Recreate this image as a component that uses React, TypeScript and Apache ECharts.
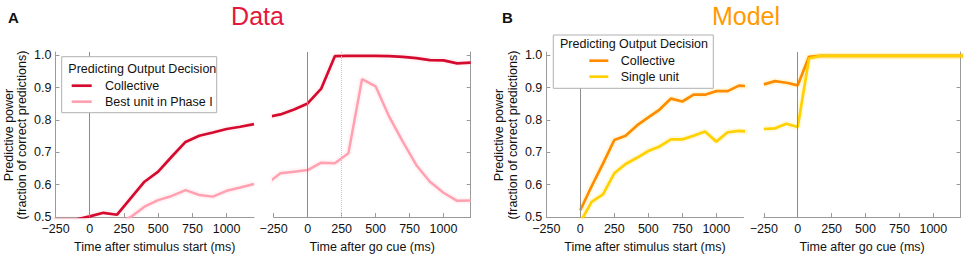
import React, { useEffect, useRef } from 'react';
import * as echarts from 'echarts';

// ---- Data ----
const T_DATA = [-300, -200, -100, 0, 100, 200, 300, 400, 500, 600, 700, 800, 900, 1000, 1100, 1200];
const A_STIM_COLLECTIVE = [0.492, 0.492, 0.492, 0.502, 0.513, 0.507, 0.558, 0.609, 0.640, 0.687, 0.732, 0.751, 0.761, 0.772, 0.779, 0.787];
const A_STIM_BEST = [0.46, 0.46, 0.465, 0.47, 0.475, 0.48, 0.500, 0.532, 0.552, 0.565, 0.583, 0.568, 0.563, 0.581, 0.591, 0.602];
const A_GO_COLLECTIVE = [0.809, 0.817, 0.832, 0.851, 0.897, 0.997, 0.998, 0.998, 0.998, 0.997, 0.995, 0.991, 0.985, 0.984, 0.975, 0.977];
const A_GO_BEST = [0.603, 0.635, 0.640, 0.645, 0.668, 0.666, 0.697, 0.926, 0.904, 0.810, 0.733, 0.660, 0.609, 0.575, 0.550, 0.551];

const T_MODEL_STIM = [0, 83.3, 166.7, 250, 333.3, 416.7, 500, 583.3, 666.7, 750, 833.3, 916.7, 1000, 1083.3, 1166.7, 1250];
const B_STIM_COLLECTIVE = [0.521, 0.595, 0.665, 0.738, 0.751, 0.783, 0.808, 0.832, 0.866, 0.857, 0.878, 0.878, 0.889, 0.889, 0.906, 0.904];
const B_STIM_SINGLE = [0.484, 0.547, 0.570, 0.635, 0.664, 0.683, 0.704, 0.718, 0.740, 0.740, 0.751, 0.764, 0.733, 0.762, 0.766, 0.764];

const T_MODEL_GO = [-250, -166.7, -83.3, 0, 83.3, 166.7, 250, 333.3, 416.7, 500, 583.3, 666.7, 750, 833.3, 916.7, 1000, 1083.3, 1166.7, 1250];
const B_GO_COLLECTIVE = [0.910, 0.920, 0.915, 0.907, 0.995, 0.998, 0.998, 0.998, 0.998, 0.998, 0.998, 0.998, 0.998, 0.998, 0.998, 0.998, 0.998, 0.998, 0.998];
const B_GO_SINGLE = [0.772, 0.774, 0.788, 0.778, 0.990, 0.998, 0.998, 0.998, 0.998, 0.998, 0.998, 0.998, 0.998, 0.998, 0.998, 0.998, 0.998, 0.998, 0.998];

const X_TICKS = [-250, 0, 250, 500, 750, 1000];
const Y_TICKS = [0.5, 0.6, 0.7, 0.8, 0.9, 1.0];
const X_MIN = -250;
const X_MAX = 1200;
const Y_MIN = 0.5;
const Y_MAX = 1.01;

const LEGEND_TITLE = 'Predicting Output Decision';
const A_NAMES = ['Collective', 'Best unit in Phase I'];
const B_NAMES = ['Collective', 'Single unit'];
const X_NAMES = ['Time after stimulus start (ms)', 'Time after go cue (ms)'];
const Y_NAME = 'Predictive power\n(fraction of correct predictions)';

// ---- Styles ----
const FONT = '"Liberation Sans", Arial, Helvetica, sans-serif';
const FS = 12.5;
const RED = '#d40a2e';
const PINK = '#ffa1b1';
const ORANGE = '#ff8c00';
const YELLOW = '#ffd100';
const AXIS = '#9a9a9a';
const TXT = '#111';

const GRIDS = [
  { left: 55.5, width: 198.5 },
  { left: 273.7, width: 197 },
  { left: 546.3, width: 197.2 },
  { left: 763.8, width: 196.7 },
];

const pairs = (t: number[], v: number[]) => t.map((x, i) => [x, v[i]]);
const fmtX = (v: number) => (v < 0 ? '\u2212' + Math.abs(v) : String(v));

export default function App() {
  const ref = useRef<HTMLDivElement>(null);
  useEffect(() => {
    if (!ref.current) return;
    const chart = echarts.init(ref.current, undefined, { renderer: 'svg' });

    const grid = GRIDS.map((g) => ({ left: g.left, width: g.width, top: 52, height: 165, outerBoundsMode: 'none' }));

    const xAxis = GRIDS.map((_, i) => ({
      type: 'value',
      gridIndex: i,
      min: X_MIN,
      max: X_MAX,
      name: X_NAMES[i % 2],
      nameLocation: 'middle',
      nameGap: 21,
      nameTextStyle: { fontFamily: FONT, fontSize: FS, color: TXT },
      axisLine: { show: true, onZero: false, lineStyle: { color: AXIS, width: 1 } },
      axisTick: { show: true, inside: true, length: 4, customValues: X_TICKS, lineStyle: { color: AXIS } },
      axisLabel: {
        customValues: X_TICKS,
        formatter: fmtX,
        margin: 6,
        lineHeight: 12,
        fontFamily: FONT,
        fontSize: FS,
        color: TXT,
      },
      splitLine: { show: false },
    }));

    const yAxis = GRIDS.map((_, i) => ({
      type: 'value',
      gridIndex: i,
      min: Y_MIN,
      max: Y_MAX,
      position: i % 2 === 0 ? 'left' : 'right',
      axisLine: { show: true, onZero: false, lineStyle: { color: AXIS, width: 1 } },
      axisTick: { show: true, inside: true, length: 4, customValues: Y_TICKS, lineStyle: { color: AXIS } },
      axisLabel: {
        show: i % 2 === 0,
        customValues: Y_TICKS,
        formatter: (v: number) => v.toFixed(1),
        margin: 4,
        lineHeight: 11,
        fontFamily: FONT,
        fontSize: FS,
        color: TXT,
      },
      splitLine: { show: false },
    }));

    const vline = (idx: number, x: number, color: string, type: string) => ({
      type: 'line',
      xAxisIndex: idx,
      yAxisIndex: idx,
      data: [],
      silent: true,
      markLine: {
        silent: true,
        symbol: ['none', 'none'],
        label: { show: false },
        emphasis: { disabled: true },
        lineStyle: { color, type, width: 1 },
        data: [{ xAxis: x }],
      },
    });

    const shade = (idx: number, data: number[][], color: string) => ({
      type: 'line',
      xAxisIndex: idx,
      yAxisIndex: idx,
      data,
      symbol: 'none',
      silent: true,
      clip: true,
      lineStyle: { color, width: 6.5, opacity: 0.12 },
    });
    const main = (idx: number, data: number[][], color: string, width = 2.7) => ({
      type: 'line',
      xAxisIndex: idx,
      yAxisIndex: idx,
      data,
      symbol: 'none',
      silent: true,
      clip: true,
      lineStyle: { color, width },
    });

    const aStimC = pairs(T_DATA, A_STIM_COLLECTIVE);
    const aStimB = pairs(T_DATA, A_STIM_BEST);
    const aGoC = pairs(T_DATA, A_GO_COLLECTIVE);
    const aGoB = pairs(T_DATA, A_GO_BEST);
    const bStimC = pairs(T_MODEL_STIM, B_STIM_COLLECTIVE);
    const bStimS = pairs(T_MODEL_STIM, B_STIM_SINGLE);
    const bGoC = pairs(T_MODEL_GO, B_GO_COLLECTIVE);
    const bGoS = pairs(T_MODEL_GO, B_GO_SINGLE);

    const series = [
      vline(0, 0, '#8c8c8c', 'solid'),
      vline(1, 0, '#8c8c8c', 'solid'),
      vline(1, 250, '#c8c8c8', 'dotted'),
      vline(2, 0, '#8c8c8c', 'solid'),
      vline(3, 0, '#8c8c8c', 'solid'),
      shade(0, aStimB, PINK), shade(0, aStimC, PINK),
      main(0, aStimB, PINK, 2.5), main(0, aStimC, RED),
      shade(1, aGoB, PINK), shade(1, aGoC, PINK),
      main(1, aGoB, PINK, 2.5), main(1, aGoC, RED),
      shade(2, bStimC, YELLOW), shade(2, bStimS, YELLOW),
      main(2, bStimC, ORANGE), main(2, bStimS, YELLOW),
      shade(3, bGoC, YELLOW), shade(3, bGoS, YELLOW),
      main(3, bGoC, ORANGE), main(3, bGoS, YELLOW),
    ];

    const txt = (x: number, y: number, text: string, extra: any = {}, rot = 0) => ({
      type: 'text',
      x,
      y,
      rotation: rot,
      z: 100,
      silent: true,
      style: {
        text,
        fill: TXT,
        fontFamily: FONT,
        fontSize: FS,
        align: 'left',
        textAlign: 'left',
        verticalAlign: 'middle',
        textVerticalAlign: 'middle',
        ...extra,
      },
    });

    const legend = (
      box: { x: number; y: number; w: number; h: number },
      titleX: number,
      titleY: number,
      lineX1: number,
      lineX2: number,
      textX: number,
      ys: number[],
      names: string[],
      colors: string[],
    ) => [
      {
        type: 'rect',
        z: 99,
        silent: true,
        shape: { x: box.x, y: box.y, width: box.w, height: box.h },
        style: { fill: '#ffffff', stroke: '#b0b0b0', lineWidth: 1 },
      },
      txt(titleX, titleY, LEGEND_TITLE),
      ...names.flatMap((n, i) => [
        {
          type: 'line',
          z: 100,
          silent: true,
          shape: { x1: lineX1, y1: ys[i], x2: lineX2, y2: ys[i] },
          style: { stroke: colors[i], lineWidth: 2.7 },
        },
        txt(textX, ys[i], n),
      ]),
    ];

    const graphic = [
      txt(8, 17, 'A', { fontSize: 15, fontWeight: 'bold' }),
      txt(502, 17, 'B', { fontSize: 15, fontWeight: 'bold' }),
      txt(257.5, 15.5, 'Data', { fontSize: 25, fill: '#e2183c', align: 'center', textAlign: 'center' }),
      txt(746, 15.5, 'Model', { fontSize: 25, fill: '#ff9a00', align: 'center', textAlign: 'center' }),
      txt(15.5, 135, Y_NAME, { align: 'center', textAlign: 'center', lineHeight: 13.5 }, Math.PI / 2),
      txt(506, 135, Y_NAME, { align: 'center', textAlign: 'center', lineHeight: 13.5 }, Math.PI / 2),
      ...legend({ x: 61.7, y: 56.7, w: 155, h: 56 }, 68.3, 69, 71.7, 91.7, 105, [85.7, 101.7], A_NAMES, [RED, PINK]),
      ...legend({ x: 553.3, y: 35, w: 160, h: 53.3 }, 560, 44, 589.3, 608.3, 620.7, [60.7, 76.7], B_NAMES, [ORANGE, YELLOW]),
    ];

    chart.setOption({
      animation: false,
      textStyle: { fontFamily: FONT },
      grid,
      xAxis,
      yAxis,
      series,
      graphic,
    } as any);

    return () => chart.dispose();
  }, []);

  return (
    <div
      ref={ref}
      style={{ position: 'fixed', left: 0, top: 0, width: 964, height: 255, background: '#ffffff' }}
    />
  );
}
